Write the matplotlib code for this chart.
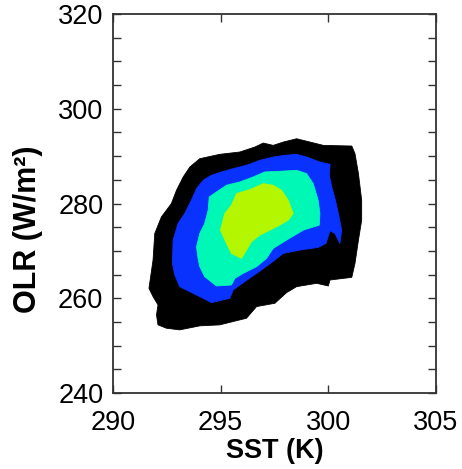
import matplotlib
matplotlib.use("Agg")
import matplotlib.pyplot as plt
from matplotlib.ticker import MultipleLocator

plt.rcParams['font.family'] = ['Liberation Sans', 'DejaVu Sans']

# Contour boundaries (SST in K, OLR in W/m^2), outer to inner
level1_sst = [291.67, 291.86, 291.94, 292.25, 292.71, 292.95, 293.26, 293.57, 294.03, 294.96,
              295.89, 296.59, 296.98, 297.44, 297.91, 298.53, 299.15, 299.77, 301.09, 301.24,
              301.40, 301.55, 301.55, 301.40, 301.24, 301.09, 300.08, 300.00, 299.46, 298.53,
              298.06, 297.52, 296.67, 296.20, 295.58, 294.96, 294.03, 293.10, 292.48, 292.09,
              292.02, 292.09, 291.86]
level1_olr = [262.1, 268.07, 273.68, 277.19, 279.98, 282.81, 285.61, 287.72, 289.47, 290.39,
              290.88, 291.93, 292.77, 292.28, 292.98, 293.68, 292.98, 292.28, 292.14, 290.53,
              286.32, 280.70, 276.49, 272.28, 267.37, 264.42, 263.86, 262.60, 263.16, 262.46,
              261.19, 258.95, 258.25, 255.79, 255.09, 254.39, 254.18, 253.33, 253.68, 254.39,
              256.49, 258.60, 260.35]

level2_sst = [292.79, 293.02, 293.33, 293.64, 293.88, 294.19, 294.57, 295.04, 295.58, 296.20,
              296.82, 297.44, 297.98, 298.53, 298.99, 299.61, 300.08, 300.05, 300.16, 300.31,
              300.47, 300.62, 300.54, 300.31, 300.08, 299.89, 299.53, 298.68, 297.91, 297.21,
              296.67, 296.05, 295.58, 295.43, 294.57, 294.19, 293.72, 293.10, 292.87, 292.76]
level2_olr = [272.28, 275.79, 277.89, 280.70, 283.16, 284.91, 285.96, 286.67, 287.37, 288.07,
              289.12, 289.82, 290.18, 290.39, 289.82, 288.77, 288.28, 285.96, 283.51, 281.05,
              277.89, 274.39, 271.58, 273.68, 274.25, 271.58, 270.74, 270.18, 269.47, 267.02,
              265.26, 263.30, 261.75, 260.00, 259.09, 260.00, 261.05, 262.46, 264.91, 267.37]

level3_sst = [293.88, 294.03, 294.26, 294.42, 294.47, 294.81, 295.27, 295.89, 296.51, 297.05,
              297.75, 298.53, 298.99, 299.30, 299.53, 299.61, 299.58, 298.84, 298.06, 297.44,
              297.13, 296.67, 296.05, 295.66, 295.50, 294.81, 294.26, 294.03, 293.95]
level3_olr = [270.88, 273.68, 275.79, 278.60, 281.40, 282.46, 283.86, 284.56, 285.61, 286.67,
              286.81, 287.02, 286.32, 284.21, 280.70, 277.89, 275.44, 274.39, 272.28, 270.53,
              268.42, 266.67, 265.26, 264.21, 262.81, 262.60, 264.56, 266.67, 268.42]

level4_sst = [294.99, 295.19, 295.50, 295.74, 296.36, 296.98, 297.44, 297.83, 298.14, 298.37,
              298.14, 297.75, 297.29, 296.82, 296.43, 295.97, 295.50, 295.27]
level4_olr = [274.39, 277.89, 279.65, 282.11, 282.95, 284.21, 283.86, 282.81, 280.70, 277.89,
              276.49, 275.44, 274.39, 273.33, 271.93, 268.42, 269.47, 271.58]

level_colors = ['#000000', '#0a32ff', '#00f8b6', '#b4f500']

x_ticks = [290, 295, 300, 305]
y_ticks = [240, 260, 280, 300, 320]

fig = plt.figure(figsize=(4.62, 4.69), dpi=100)
ax = fig.add_axes([0.2446, 0.162, 0.699, 0.808])

levels = [(level1_sst, level1_olr), (level2_sst, level2_olr),
          (level3_sst, level3_olr), (level4_sst, level4_olr)]
for (xs, ys), c in zip(levels, level_colors):
    ax.fill(xs, ys, color=c, lw=0.6, ec=c, joinstyle='round')

ax.set_xlim(290, 305)
ax.set_ylim(240, 320)
ax.set_xticks(x_ticks)
ax.set_yticks(y_ticks)
ax.xaxis.set_minor_locator(MultipleLocator(5))
ax.yaxis.set_minor_locator(MultipleLocator(5))
ax.tick_params(which='both', direction='in', top=True, right=True, length=5.5,
               width=1.0, color='#333333')
ax.tick_params(which='major', labelsize=19.5)
ax.tick_params(axis='y', which='major', pad=7)
ax.tick_params(axis='x', which='major', pad=12)
for s in ax.spines.values():
    s.set_linewidth(1.3)
    s.set_color('#333333')

ax.set_xlabel('SST (K)', fontsize=19.5, fontweight='bold')
ax.set_ylabel('OLR (W/m²)', fontsize=22, fontweight='bold')
ax.xaxis.label.set_va('center')
ax.yaxis.label.set_va('center')
ax.xaxis.set_label_coords(0.5, -0.153)
ax.yaxis.set_label_coords(-0.263, 0.433)

fig.savefig('out.png', dpi=100)
